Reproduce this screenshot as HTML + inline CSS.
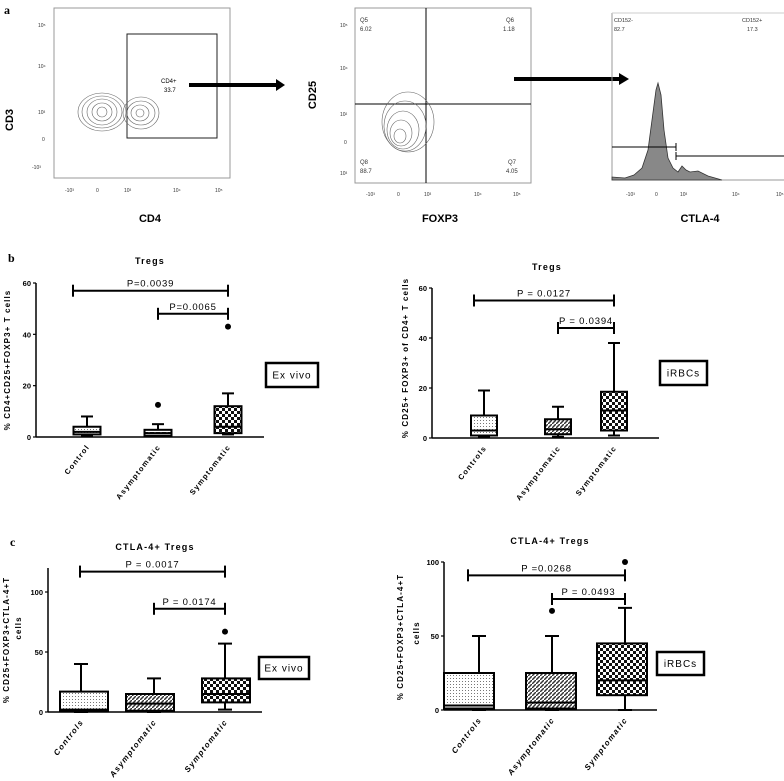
<!DOCTYPE html>
<html><head><meta charset="utf-8"><style>
html,body{margin:0;padding:0;background:#fff}
svg{display:block;font-family:"Liberation Sans",sans-serif}
</style></head><body>
<svg id="fig" width="784" height="781" viewBox="0 0 784 781" xmlns="http://www.w3.org/2000/svg">
<defs>
<pattern id="pDot" width="3" height="3" patternUnits="userSpaceOnUse"><rect width="3" height="3" fill="#fff"/><rect width="1" height="1" fill="#777"/></pattern>
<pattern id="pDash" width="6" height="4" patternUnits="userSpaceOnUse"><rect width="6" height="4" fill="#fff"/><rect width="4" height="2" fill="#333"/></pattern>
<pattern id="pDiag" width="4" height="4" patternUnits="userSpaceOnUse"><rect width="4" height="4" fill="#fff"/><path d="M0 4L4 0" stroke="#333" stroke-width="1.5"/></pattern>
<pattern id="pChk" width="6" height="6" patternUnits="userSpaceOnUse"><rect width="6" height="6" fill="#fff"/><rect width="3" height="3" fill="#111"/><rect x="3" y="3" width="3" height="3" fill="#111"/></pattern>
</defs>
<g id="panelA">
<text x="4" y="14" font-family="Liberation Serif" font-weight="bold" font-size="12">a</text>
<!-- plot 1 -->
<rect x="54" y="8" width="176" height="170" fill="none" stroke="#999"/>
<rect x="127" y="34" width="90" height="104" fill="none" stroke="#222"/>
<text x="161" y="83" font-size="6">CD4+</text>
<text x="164" y="92" font-size="6">33.7</text>
<g fill="none" stroke="#666" stroke-width="0.6">
<ellipse cx="102" cy="112" rx="24" ry="19"/><ellipse cx="102" cy="112" rx="20" ry="16"/><ellipse cx="102" cy="112" rx="15" ry="13"/><ellipse cx="102" cy="112" rx="10" ry="9"/><ellipse cx="102" cy="112" rx="5" ry="5"/>
<ellipse cx="141" cy="113" rx="18" ry="16"/><ellipse cx="141" cy="113" rx="14" ry="12"/><ellipse cx="140" cy="113" rx="9" ry="8"/><ellipse cx="140" cy="113" rx="4" ry="4"/>
</g>
<g font-size="5" fill="#333">
<text x="38" y="27">10⁵</text><text x="38" y="68">10⁴</text><text x="38" y="114">10³</text><text x="42" y="141">0</text><text x="32" y="169">-10³</text>
<text x="65" y="192">-10³</text><text x="96" y="192">0</text><text x="124" y="192">10³</text><text x="173" y="192">10⁴</text><text x="215" y="192">10⁵</text>
</g>
<text transform="translate(13,120) rotate(-90)" text-anchor="middle" font-weight="bold" font-size="11">CD3</text>
<text x="150" y="222" text-anchor="middle" font-weight="bold" font-size="11">CD4</text>
<line x1="189" y1="85" x2="277" y2="85" stroke="#000" stroke-width="4"/>
<polygon points="276,79 285,85 276,91" fill="#000"/>
<!-- plot 2 -->
<rect x="355" y="8" width="176" height="175" fill="none" stroke="#999"/>
<line x1="426" y1="8" x2="426" y2="183" stroke="#000"/><line x1="355" y1="104" x2="531" y2="104" stroke="#000"/>
<g font-size="6" fill="#333">
<text x="360" y="22">Q5</text><text x="360" y="31">6.02</text><text x="506" y="22">Q6</text><text x="503" y="31">1.18</text>
<text x="360" y="164">Q8</text><text x="360" y="173">88.7</text><text x="508" y="164">Q7</text><text x="506" y="173">4.05</text>
</g>
<g fill="none" stroke="#666" stroke-width="0.6">
<ellipse cx="408" cy="122" rx="26" ry="30"/><ellipse cx="405" cy="126" rx="21" ry="25"/><ellipse cx="403" cy="130" rx="16" ry="19"/><ellipse cx="401" cy="133" rx="11" ry="13"/><ellipse cx="400" cy="136" rx="6" ry="7"/>
</g>
<g font-size="5" fill="#333"><text x="340" y="27">10⁵</text><text x="340" y="70">10⁴</text><text x="340" y="116">10²</text><text x="344" y="144">0</text><text x="340" y="175">10³</text>
<text x="366" y="196">-10³</text><text x="397" y="196">0</text><text x="424" y="196">10³</text><text x="474" y="196">10⁴</text><text x="513" y="196">10⁵</text></g>
<text transform="translate(316,95) rotate(-90)" text-anchor="middle" font-weight="bold" font-size="11">CD25</text>
<text x="440" y="222" text-anchor="middle" font-weight="bold" font-size="11">FOXP3</text>
<line x1="514" y1="79" x2="620" y2="79" stroke="#000" stroke-width="4"/>
<polygon points="619,73 629,79 619,85" fill="#000"/>
<!-- plot 3 -->
<path d="M612 13V180H784" fill="none" stroke="#999"/>
<line x1="612" y1="13" x2="784" y2="13" stroke="#ccc"/>
<path d="M612 180L612 177L625 178L634 175L642 168L648 150L652 120L656 90L658 83L661 95L664 130L668 158L673 168L678 172L682 166L686 170L690 172L698 171L708 176L722 180Z" fill="#888" stroke="#333" stroke-width="0.8"/>
<line x1="612" y1="147" x2="676" y2="147" stroke="#000"/><line x1="676" y1="143" x2="676" y2="151" stroke="#000"/>
<line x1="676" y1="156" x2="784" y2="156" stroke="#000"/><line x1="676" y1="152" x2="676" y2="160" stroke="#000"/>
<g font-size="5.5" fill="#333"><text x="614" y="22">CD152-</text><text x="614" y="31">82.7</text><text x="742" y="22">CD152+</text><text x="747" y="31">17.3</text></g>
<g font-size="5" fill="#333"><text x="626" y="196">-10³</text><text x="655" y="196">0</text><text x="680" y="196">10³</text><text x="732" y="196">10⁴</text><text x="776" y="196">10⁵</text></g>
<text x="700" y="222" text-anchor="middle" font-weight="bold" font-size="11">CTLA-4</text>
</g>
<text x="8" y="262" font-family="Liberation Serif" font-weight="bold" font-size="12">b</text>
<text x="10" y="546" font-family="Liberation Serif" font-weight="bold" font-size="12">c</text>
</svg>
<script>
// Panel b left
const bLCats=["Control","Asymptomatic","Symptomatic"];
const bLMin=[0.5,0.5,1];
const bLQ1=[1,0.5,1.5];
const bLMed=[2,1.5,4];
const bLQ3=[4,2.8,12];
const bLMax=[8,5,17];
const bLOut=[[],[12.5],[43]];
const bLTicks=[0,20,40,60];
const bLSig=[[0,2,57,"P=0.0039"],[1,2,48,"P=0.0065"]];
// Panel b right
const bRCats=["Controls","Asymptomatic","Symptomatic"];
const bRMin=[0.5,0.5,1];
const bRQ1=[1,1.5,3];
const bRMed=[3,3.5,11];
const bRQ3=[9,7.5,18.5];
const bRMax=[19,12.5,38];
const bROut=[[],[],[]];
const bRTicks=[0,20,40,60];
const bRSig=[[0,2,55,"P = 0.0127"],[1,2,44,"P = 0.0394"]];
// Panel c left
const cLCats=["Controls","Asymptomatic","Symptomatic"];
const cLMin=[0,0,2];
const cLQ1=[1,1,8];
const cLMed=[2,7,15];
const cLQ3=[17,15,28];
const cLMax=[40,28,57];
const cLOut=[[],[],[67]];
const cLTicks=[0,50,100];
const cLSig=[[0,2,117,"P = 0.0017"],[1,2,86,"P = 0.0174"]];
// Panel c right
const cRCats=["Controls","Asymptomatic","Symptomatic"];
const cRMin=[0,0,0];
const cRQ1=[1,1,10];
const cRMed=[3,5,20];
const cRQ3=[25,25,45];
const cRMax=[50,50,69];
const cROut=[[],[67],[100]];
const cRTicks=[0,50,100];
const cRSig=[[0,2,91,"P =0.0268"],[1,2,75,"P = 0.0493"]];

const NS="http://www.w3.org/2000/svg";
const svg=document.getElementById('fig');
function mk(tag,attrs,parent,txt){const e=document.createElementNS(NS,tag);for(const k in attrs)e.setAttribute(k,attrs[k]);if(txt!==undefined)e.textContent=txt;parent.appendChild(e);return e;}

function panel(cfg,cats,mn,q1,md,q3,mx,outs,ticks,sigs){
  const g=mk('g',{},svg);
  
  
  const y=v=>cfg.y0-(v/cfg.vMax)*(cfg.y0-cfg.yTop);
  const axTop=cfg.axTopV!==undefined?y(cfg.axTopV):y(cfg.vMax);
  const yAx=mk('line',{x1:cfg.x0,y1:axTop,x2:cfg.x0,y2:cfg.y0,stroke:'#000','stroke-width':1.5},g);
  
  
  const xAx=mk('line',{x1:cfg.x0,y1:cfg.y0,x2:cfg.xEnd,y2:cfg.y0,stroke:'#000','stroke-width':1.5},g);
  
  
  ticks.forEach(t=>{
    mk('line',{x1:cfg.x0-3,y1:y(t),x2:cfg.x0,y2:y(t),stroke:'#000','stroke-width':1.2},g);
    const tl=mk('text',{x:cfg.x0-5,y:y(t)+3,'text-anchor':'end','font-size':7.5,'font-weight':'bold'},g,String(t));
    
    
  });
  cats.forEach((c,i)=>{
    const cx=cfg.cx[i],w=cfg.bw/2,wx=cfg.wx?cfg.wx[i]:cx;
    const bg=mk('g',{},g);
    
    
    mk('line',{x1:wx,y1:y(mx[i]),x2:wx,y2:y(q3[i]),stroke:'#000','stroke-width':2},bg);
    mk('line',{x1:wx-cfg.cap,y1:y(mx[i]),x2:wx+cfg.cap,y2:y(mx[i]),stroke:'#000','stroke-width':2},bg);
    mk('line',{x1:wx,y1:y(mn[i]),x2:wx,y2:y(q1[i]),stroke:'#000','stroke-width':2},bg);
    mk('line',{x1:wx-cfg.cap,y1:y(mn[i]),x2:wx+cfg.cap,y2:y(mn[i]),stroke:'#000','stroke-width':2},bg);
    mk('rect',{x:cx-w,y:y(q3[i]),width:2*w,height:y(q1[i])-y(q3[i]),fill:'url(#'+cfg.pat[i]+')',stroke:'#000','stroke-width':2},bg);
    mk('line',{x1:cx-w,y1:y(md[i]),x2:cx+w,y2:y(md[i]),stroke:'#000','stroke-width':2},bg);
    outs[i].forEach(o=>{
      const d=mk('circle',{cx:wx,cy:y(o),r:3,fill:'#000'},g);
      
      
    });
    const lab=mk('text',{transform:`translate(${wx+3},${cfg.y0+10}) rotate(-52)`,'text-anchor':'end','font-size':cfg.lfs||7.5,'font-weight':'bold','letter-spacing':1.3,'font-style':cfg.italic?'italic':'normal'},g,c);
    
    
  });
  sigs.forEach(s=>{
    const wxa=cfg.wx?cfg.wx[s[0]]:cfg.cx[s[0]],wxb=cfg.wx?cfg.wx[s[1]]:cfg.cx[s[1]];
    const xa=wxa-(s[0]===0?cfg.sigOff0:0),xb=wxb,yy=y(s[2]);
    const sg=mk('g',{},g);
    
    
    mk('line',{x1:xa,y1:yy,x2:xb,y2:yy,stroke:'#000','stroke-width':2},sg);
    mk('line',{x1:xa,y1:yy-6,x2:xa,y2:yy+6,stroke:'#000','stroke-width':2},sg);
    mk('line',{x1:xb,y1:yy-6,x2:xb,y2:yy+6,stroke:'#000','stroke-width':2},sg);
    mk('text',{x:(xa+xb)/2,y:yy-4,'text-anchor':'middle','font-size':9.5,'letter-spacing':0.8},sg,s[3]);
  });
  const t=mk('text',{x:cfg.titleX,y:cfg.titleY,'text-anchor':'middle','font-size':9,'font-weight':'bold','letter-spacing':1.2},g,cfg.title);
  
  
  cfg.ylab.forEach((l,k)=>{
    const yl=mk('text',{transform:`translate(${cfg.ylabX[k]},${cfg.ylabY[k]}) rotate(-90)`,'text-anchor':'middle','font-size':8,'font-weight':'bold','letter-spacing':1.1},g,l);
    
    
  });
  const lb=cfg.lbox;
  const lg=mk('g',{},g);
  
  
  mk('rect',{x:lb[0],y:lb[1],width:lb[2],height:lb[3],fill:'#fff',stroke:'#000','stroke-width':2.5},lg);
  mk('text',{x:lb[0]+lb[2]/2,y:lb[1]+lb[3]/2+3.5,'text-anchor':'middle','font-size':10,'letter-spacing':1},lg,lb[4]);
}

panel({name:'chart-b-exvivo',x0:36,y0:437,yTop:283,vMax:60,xEnd:264,cx:[87,158,228],bw:27,cap:6,pat:['pDot','pDash','pChk'],sigOff0:14,
  title:'Tregs',titleX:150,titleY:264,ylab:['% CD4+CD25+FOXP3+ T cells'],ylabX:[10],ylabY:[360],lbox:[266,363,52,24,'Ex vivo']},
  bLCats,bLMin,bLQ1,bLMed,bLQ3,bLMax,bLOut,bLTicks,bLSig);
panel({name:'chart-b-irbcs',x0:432,y0:438,yTop:288,vMax:60,xEnd:659,cx:[484,558,614],bw:26,cap:6,pat:['pDot','pDiag','pChk'],sigOff0:10,
  title:'Tregs',titleX:547,titleY:270,ylab:['% CD25+ FOXP3+ of CD4+ T cells'],ylabX:[408],ylabY:[358],lbox:[660,361,47,24,'iRBCs']},
  bRCats,bRMin,bRQ1,bRMed,bRQ3,bRMax,bROut,bRTicks,bRSig);
panel({name:'chart-c-exvivo',x0:48,y0:712,yTop:592,vMax:100,axTopV:120,xEnd:262,cx:[84,150,226],bw:48,wx:[81,154,225],cap:7,pat:['pDot','pDiag','pChk'],sigOff0:1,italic:true,lfs:8,
  title:'CTLA-4+ Tregs',titleX:155,titleY:550,ylab:['% CD25+FOXP3+CTLA-4+T','cells'],ylabX:[9,21],ylabY:[640,628],lbox:[259,657,50,22,'Ex vivo']},
  cLCats,cLMin,cLQ1,cLMed,cLQ3,cLMax,cLOut,cLTicks,cLSig);
panel({name:'chart-c-irbcs',x0:444,y0:710,yTop:562,vMax:100,xEnd:657,cx:[469,551,622],bw:50,wx:[479,552,625],cap:7,pat:['pDot','pDiag','pChk'],sigOff0:11,italic:true,lfs:8,
  title:'CTLA-4+ Tregs',titleX:550,titleY:544,ylab:['% CD25+FOXP3+CTLA-4+T','cells'],ylabX:[403,419],ylabY:[637,633],lbox:[657,652,47,23,'iRBCs']},
  cRCats,cRMin,cRQ1,cRMed,cRQ3,cRMax,cROut,cRTicks,cRSig);
</script>
</body></html>
